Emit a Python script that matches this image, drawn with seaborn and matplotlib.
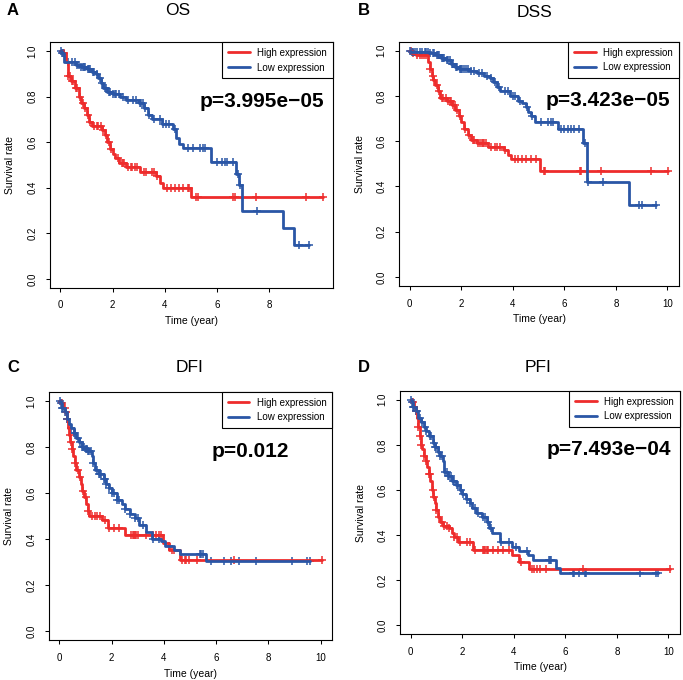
import numpy as np
import matplotlib
matplotlib.use("Agg")
import matplotlib.pyplot as plt
import seaborn as sns

# ---- data (Kaplan-Meier steps + censor times) ----
panels = ["OS", "DSS", "DFI", "PFI"]
letters = ["A", "B", "C", "D"]
pvalues = ["p=3.995e\u221205", "p=3.423e\u221205", "p=0.012", "p=7.493e\u221204"]

# OS
os_high_t = [0.1, 0.22, 0.3, 0.4, 0.55, 0.7, 0.8, 0.9, 1.0, 1.1, 1.2, 1.6, 1.7, 1.8, 1.9, 2.0,
             2.1, 2.25, 2.5, 3.05, 3.65, 3.8, 3.95, 5.02]
os_high_s = [0.99, 0.95, 0.89, 0.87, 0.84, 0.80, 0.77, 0.75, 0.72, 0.69, 0.67, 0.655, 0.63, 0.60,
             0.57, 0.55, 0.53, 0.51, 0.49, 0.47, 0.45, 0.42, 0.40, 0.36]
os_high_c = [0.15, 0.3, 0.35, 0.45, 0.5, 0.6, 0.65, 0.75, 0.85, 0.95, 1.05, 1.15, 1.3, 1.4, 1.45,
             1.55, 1.65, 1.75, 1.85, 1.95, 2.2, 2.35, 2.4, 2.45, 2.6, 2.7, 2.75, 2.85, 2.95, 3.2,
             3.3, 3.5, 3.6, 3.7, 4.1, 4.25, 4.4, 4.55, 4.7, 4.88, 4.94, 5.2, 5.27, 6.63, 6.69,
             7.5, 9.42, 10.06]
os_low_t = [0.05, 0.15, 0.6, 0.8, 1.0, 1.2, 1.35, 1.45, 1.55, 1.65, 1.8, 2.0, 2.3, 2.5, 3.0, 3.2,
            3.35, 3.5, 3.9, 4.3, 4.45, 4.55, 4.7, 5.77, 6.72, 6.85, 6.95, 8.55, 8.95]
os_low_s = [0.99, 0.95, 0.94, 0.93, 0.92, 0.91, 0.90, 0.88, 0.86, 0.84, 0.82, 0.81, 0.80, 0.785,
            0.77, 0.75, 0.72, 0.70, 0.68, 0.66, 0.62, 0.59, 0.575, 0.515, 0.46, 0.41, 0.296,
            0.222, 0.148]
os_low_c = [0.02, 0.05, 0.1, 0.3, 0.45, 0.55, 0.65, 0.7, 0.8, 0.85, 0.9, 0.95, 1.05, 1.1, 1.15,
            1.25, 1.3, 1.4, 1.5, 1.6, 1.7, 1.75, 1.85, 1.9, 2.0, 2.1, 2.15, 2.25, 2.4, 2.6, 2.8,
            2.9, 3.05, 3.1, 3.15, 3.25, 3.4, 3.6, 3.8, 3.95, 4.05, 4.15, 4.4, 4.9, 5.09, 5.35,
            5.47, 5.54, 5.99, 6.18, 6.31, 6.37, 6.63, 6.82, 6.9, 7.53, 9.13, 9.55]

# DSS
dss_high_t = [0.1, 0.25, 0.7, 0.78, 0.85, 0.92, 1.0, 1.1, 1.18, 1.45, 1.65, 1.78, 1.9, 2.0, 2.1,
              2.25, 2.4, 2.6, 3.05, 3.65, 3.8, 3.95, 5.07]
dss_high_s = [0.99, 0.98, 0.95, 0.92, 0.89, 0.87, 0.85, 0.82, 0.79, 0.78, 0.76, 0.74, 0.71, 0.685,
              0.655, 0.627, 0.605, 0.593, 0.575, 0.56, 0.54, 0.52, 0.468]
dss_high_c = [0.05, 0.15, 0.3, 0.4, 0.5, 0.55, 0.65, 0.8, 0.9, 0.95, 1.05, 1.15, 1.25, 1.3, 1.4,
              1.5, 1.55, 1.6, 1.7, 1.75, 1.85, 1.95, 2.15, 2.3, 2.45, 2.5, 2.65, 2.75, 2.8, 2.85,
              2.9, 2.95, 3.15, 3.3, 3.4, 3.5, 3.7, 4.1, 4.2, 4.35, 4.5, 4.7, 4.9, 5.22, 5.27,
              6.6, 6.66, 7.43, 9.35, 10.03]
dss_low_t = [0.05, 0.75, 1.0, 1.2, 1.4, 1.6, 1.75, 1.9, 2.3, 2.6, 2.9, 3.1, 3.25, 3.4, 3.5, 3.9,
             4.2, 4.35, 4.5, 4.6, 4.7, 4.85, 5.77, 6.71, 6.9, 8.5]
dss_low_s = [0.995, 0.99, 0.98, 0.97, 0.96, 0.94, 0.93, 0.92, 0.91, 0.90, 0.89, 0.88, 0.86, 0.84,
             0.82, 0.80, 0.78, 0.77, 0.75, 0.73, 0.71, 0.685, 0.655, 0.59, 0.42, 0.316]
dss_low_c = [0.02, 0.08, 0.15, 0.2, 0.3, 0.4, 0.5, 0.6, 0.65, 0.7, 0.8, 0.9, 0.95, 1.05, 1.1,
             1.15, 1.25, 1.3, 1.35, 1.45, 1.5, 1.55, 1.65, 1.7, 1.8, 1.85, 1.95, 2.0, 2.05, 2.1,
             2.2, 2.25, 2.4, 2.5, 2.7, 2.8, 3.0, 3.15, 3.3, 3.45, 3.7, 3.8, 4.0, 4.1, 4.3, 4.55,
             4.75, 5.1, 5.36, 5.49, 5.55, 5.88, 6.0, 6.13, 6.26, 6.39, 6.58, 6.8, 6.93, 7.51,
             8.9, 9.03, 9.55]

# DFI
dfi_high_t = [0.05, 0.15, 0.22, 0.28, 0.33, 0.38, 0.42, 0.47, 0.52, 0.58, 0.65, 0.75, 0.82, 0.88,
              0.95, 1.02, 1.08, 1.15, 1.65, 1.85, 2.5, 3.95, 4.2, 4.6]
dfi_high_s = [0.99, 0.97, 0.95, 0.92, 0.88, 0.85, 0.82, 0.79, 0.76, 0.73, 0.70, 0.67, 0.64, 0.61,
              0.58, 0.55, 0.52, 0.50, 0.48, 0.445, 0.415, 0.38, 0.35, 0.31]
dfi_high_c = [0.1, 0.2, 0.25, 0.3, 0.4, 0.45, 0.5, 0.6, 0.7, 0.8, 0.9, 1.0, 1.1, 1.25, 1.35, 1.45,
              1.55, 1.75, 1.9, 2.1, 2.3, 2.75, 2.8, 2.85, 2.9, 2.95, 3.0, 3.3, 3.6, 3.7, 3.8, 3.9,
              4.3, 4.4, 4.7, 4.8, 4.86, 4.97, 5.27, 6.7, 10.04]
dfi_low_t = [0.05, 0.1, 0.2, 0.28, 0.35, 0.45, 0.55, 0.65, 0.75, 0.85, 1.0, 1.1, 1.25, 1.3, 1.35,
             1.5, 1.7, 1.8, 1.9, 2.0, 2.2, 2.4, 2.5, 2.7, 2.9, 3.05, 3.3, 3.55, 3.9, 4.05, 4.4,
             4.6, 5.62]
dfi_low_s = [0.99, 0.97, 0.95, 0.92, 0.90, 0.88, 0.86, 0.84, 0.82, 0.80, 0.79, 0.78, 0.76, 0.73,
             0.70, 0.68, 0.66, 0.64, 0.62, 0.60, 0.57, 0.55, 0.53, 0.51, 0.49, 0.46, 0.43, 0.40,
             0.39, 0.37, 0.35, 0.335, 0.305]
dfi_low_c = [0.02, 0.05, 0.1, 0.15, 0.2, 0.3, 0.45, 0.55, 0.6, 0.7, 0.8, 0.85, 0.9, 0.95, 1.0,
             1.05, 1.1, 1.15, 1.2, 1.3, 1.45, 1.5, 1.55, 1.6, 1.7, 1.75, 1.8, 1.9, 2.0, 2.1, 2.2,
             2.3, 2.5, 2.7, 2.9, 3.0, 3.2, 3.6, 3.8, 4.2, 5.38, 5.43, 5.48, 5.81, 6.32, 6.56,
             6.88, 7.52, 8.92, 9.5, 9.58]

# PFI
pfi_high_t = [0.05, 0.12, 0.2, 0.25, 0.3, 0.35, 0.4, 0.45, 0.5, 0.58, 0.63, 0.7, 0.76, 0.82, 0.88,
              0.94, 1.0, 1.08, 1.15, 1.25, 1.5, 1.6, 1.7, 1.82, 2.42, 3.95, 4.2, 4.6]
pfi_high_s = [0.99, 0.97, 0.95, 0.92, 0.88, 0.84, 0.80, 0.78, 0.75, 0.73, 0.70, 0.67, 0.64, 0.60,
              0.57, 0.54, 0.51, 0.48, 0.46, 0.44, 0.43, 0.41, 0.39, 0.37, 0.335, 0.31, 0.28, 0.25]
pfi_high_c = [0.1, 0.15, 0.2, 0.3, 0.35, 0.4, 0.5, 0.6, 0.7, 0.75, 0.85, 0.9, 1.0, 1.1, 1.2, 1.3,
              1.4, 1.5, 1.7, 1.8, 1.9, 2.2, 2.3, 2.5, 2.8, 2.85, 2.9, 2.95, 3.0, 3.2, 3.4, 3.6,
              3.8, 4.3, 4.7, 4.8, 4.9, 5.0, 5.26, 6.7, 10.05]
pfi_low_t = [0.05, 0.1, 0.2, 0.3, 0.4, 0.5, 0.6, 0.7, 0.85, 0.95, 1.05, 1.15, 1.25, 1.3, 1.45, 1.6,
             1.75, 1.9, 2.0, 2.15, 2.3, 2.4, 2.55, 2.75, 2.95, 3.05, 3.15, 3.45, 3.95, 4.2, 4.55,
             4.75, 5.64, 5.8]
pfi_low_s = [0.99, 0.97, 0.95, 0.92, 0.90, 0.88, 0.86, 0.84, 0.81, 0.79, 0.77, 0.75, 0.73, 0.68,
             0.66, 0.64, 0.62, 0.60, 0.58, 0.56, 0.54, 0.52, 0.50, 0.48, 0.46, 0.43, 0.41, 0.37,
             0.345, 0.33, 0.31, 0.29, 0.256, 0.234]
pfi_low_c = [0.02, 0.05, 0.1, 0.15, 0.2, 0.25, 0.35, 0.45, 0.55, 0.6, 0.75, 0.8, 0.9, 0.95, 1.0,
             1.1, 1.15, 1.2, 1.35, 1.4, 1.45, 1.5, 1.55, 1.65, 1.7, 1.8, 1.85, 1.95, 2.05, 2.2,
             2.3, 2.5, 2.6, 2.8, 2.9, 3.0, 3.1, 3.5, 3.8, 4.1, 4.5, 5.36, 5.41, 5.46, 6.28, 6.32,
             6.54, 6.78, 6.82, 8.9, 9.5, 9.6]

high = [(os_high_t, os_high_s, os_high_c), (dss_high_t, dss_high_s, dss_high_c),
        (dfi_high_t, dfi_high_s, dfi_high_c), (pfi_high_t, pfi_high_s, pfi_high_c)]
low = [(os_low_t, os_low_s, os_low_c), (dss_low_t, dss_low_s, dss_low_c),
       (dfi_low_t, dfi_low_s, dfi_low_c), (pfi_low_t, pfi_low_s, pfi_low_c)]

RED = "#EE2C2C"
BLUE = "#2A56A6"

sns.set_style("ticks")
plt.rcParams["font.family"] = ["Liberation Sans", "DejaVu Sans"]
plt.rcParams["text.color"] = "black"
plt.rcParams["axes.labelcolor"] = "black"


def km_steps(drop_t, drop_s, cens):
    """courbe en escalier + position des censures"""
    t = np.array([0.0] + list(drop_t) + [max(cens)])
    s = np.array([1.0] + list(drop_s) + [drop_s[-1]])
    idx = np.searchsorted(t[:-1], np.array(cens), side="right") - 1
    return t, s, np.array(cens), s[idx]


def draw_panel(ax, i):
    for (dt, ds, dc), col, lab in [(high[i], RED, "High expression"),
                                   (low[i], BLUE, "Low expression")]:
        t, s, ct, cs = km_steps(dt, ds, dc)
        sns.lineplot(x=t, y=s, drawstyle="steps-post", color=col, lw=2,
                     estimator=None, sort=False, label=lab, ax=ax)
        sns.scatterplot(x=ct, y=cs, marker="+", color=col, s=32, linewidth=1.1,
                        legend=False, ax=ax)

    ax.set_xlim(-0.4, 10.45)
    ax.set_ylim(-0.04, 1.04)
    ax.set_xticks([0, 2, 4, 6, 8] if i == 0 else [0, 2, 4, 6, 8, 10])
    ax.set_yticks([0, 0.2, 0.4, 0.6, 0.8, 1.0])
    ax.set_yticklabels(["0.0", "0.2", "0.4", "0.6", "0.8", "1.0"], rotation=90, va="center")
    ax.tick_params(axis="both", direction="out", length=3, width=0.75, labelsize=7,
                   color="black", labelcolor="black")
    ax.tick_params(axis="x", pad=6)
    ax.tick_params(axis="y", pad=6)
    for sp in ax.spines.values():
        sp.set_visible(True)
        sp.set_linewidth(0.8)
        sp.set_color("black")

    ax.set_xlabel("Time (year)", fontsize=7.5, color="black")
    ax.set_ylabel("Survival rate", fontsize=7.5, color="black")
    ax.xaxis.set_label_coords(0.5, -0.135)
    ax.xaxis.label.set_va("center")
    ax.yaxis.set_label_coords(-0.14, 0.5)
    ax.yaxis.label.set_va("center")

    leg = ax.legend(loc="upper right", borderaxespad=0, fancybox=False, framealpha=1,
                    edgecolor="black", fontsize=7, handlelength=2.2, handletextpad=0.8,
                    labelspacing=0.5, borderpad=0.6)
    leg.get_frame().set_linewidth(0.8)
    for txt in leg.get_texts():
        txt.set_color("black")

    xp = 8.8 if i == 2 else 10.1
    ax.text(xp, 0.78, pvalues[i], ha="right", va="center", fontsize=15,
            fontweight="bold", color="black")


fig = plt.figure(figsize=(6.83, 6.80), dpi=100)
boxes = [[0.0732, 0.5765, 0.4143, 0.3618],
         [0.5846, 0.5794, 0.4095, 0.3593],
         [0.0717, 0.0588, 0.4148, 0.3652],
         [0.5861, 0.0672, 0.4095, 0.3582]]
title_pos = [(0.2606, 0.9846), (0.783, 0.982), (0.278, 0.460), (0.788, 0.460)]
letter_pos = [(0.0102, 0.9846), (0.524, 0.9846), (0.0102, 0.459), (0.524, 0.459)]

for i in range(4):
    ax = fig.add_axes(boxes[i])
    draw_panel(ax, i)
    fig.text(*title_pos[i], panels[i], ha="center", va="center", fontsize=12.5,
             color="black")
    fig.text(*letter_pos[i], letters[i], ha="left", va="center", fontsize=12,
             fontweight="bold", color="black")

fig.savefig("out.png", dpi=100, facecolor="white")
